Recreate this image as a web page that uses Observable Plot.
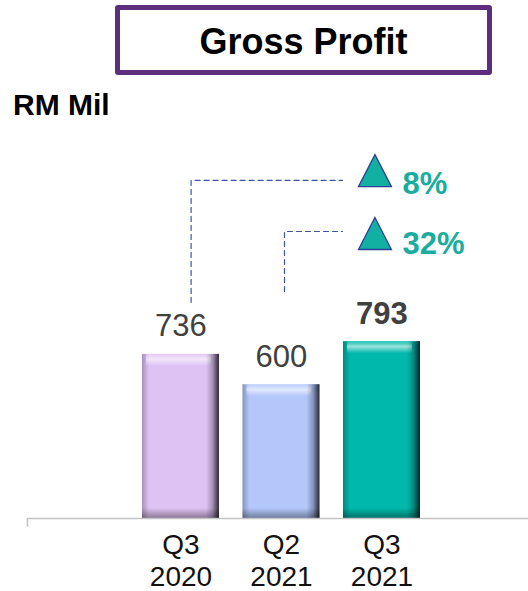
<!DOCTYPE html>
<html>
<head>
<meta charset="utf-8">
<script src="https://cdn.jsdelivr.net/npm/d3@7"></script>
<script src="https://cdn.jsdelivr.net/npm/@observablehq/plot@0.6"></script>
<style>
  body { margin: 0; background: #fff; font-family: "Liberation Sans", Arial, sans-serif; }
  #wrap { position: relative; width: 528px; height: 591px; overflow: hidden; }
  #titlebox { position: absolute; left: 115px; top: 5px; width: 377px; height: 70px; box-sizing: border-box;
    border: 5px solid #5c2e7c; border-radius: 3px; text-align: center; font-weight: bold; font-size: 36px;
    line-height: 60px; color: #000; }
  #titlebox span { position: relative; top: 2px; }
  #unit { position: absolute; left: 13px; top: 90px; font-weight: bold; font-size: 30px; line-height: 30px; color: #000; }
  #chart { position: absolute; left: 0; top: 0; }
</style>
</head>
<body>
<div id="wrap">
  <div id="chart"></div>
  <div id="titlebox"><span>Gross Profit</span></div>
  <div id="unit">RM Mil</div>
</div>
<script>
// ---- data ----
const categories = ["Q3 2020", "Q2 2021", "Q3 2021"];
const tickLabels = ["Q3\n2020", "Q2\n2021", "Q3\n2021"];
const grossProfit = [736, 600, 793];
const growthLabels = ["8%", "32%"];
const growthFrom = [0, 1];          // index of the period compared with Q3 2021
const highlightIndex = 2;           // latest quarter shown in bold

// ---- styling / layout constants ----
const barColors = ["#dfc2f4", "#b3c7fb", "#00b8ab"];
const halfBar = 0.383;
const connectorDx = [0.101, 0.030];
const connectorBottom = [969, 1018];
const connectorLevel = [1516, 1287];
const connectorEnd = 1.607;
const triangleX = 1.93;
const triangleY = [1560, 1278];
const growthTextX = 2.204;
const growthTextY = [1457, 1188];

const bars = categories.map((c, i) => ({i, cat: c, value: grossProfit[i], color: barColors[i]}));

const connectors = growthFrom.flatMap((f, j) => [
  {j, x: f + connectorDx[j], y: connectorBottom[j]},
  {j, x: f + connectorDx[j], y: connectorLevel[j]},
  {j, x: connectorEnd, y: connectorLevel[j]}
]);
const growth = growthLabels.map((t, j) => ({j, text: t, ty: triangleY[j], y: growthTextY[j]}));

const triangle = {
  draw(context, size) {
    const r = Math.sqrt(size / Math.PI);
    context.moveTo(0, -r);
    context.lineTo(1.03 * r, r);
    context.lineTo(-1.03 * r, r);
    context.closePath();
  }
};

function defs() {
  const ns = "http://www.w3.org/2000/svg";
  const g = document.createElementNS(ns, "defs");
  const mk = (id, x2, y2, stops) => {
    const lg = document.createElementNS(ns, "linearGradient");
    lg.setAttribute("id", id);
    lg.setAttribute("x1", 0); lg.setAttribute("y1", 0);
    lg.setAttribute("x2", x2); lg.setAttribute("y2", y2);
    for (const [o, c, a] of stops) {
      const s = document.createElementNS(ns, "stop");
      s.setAttribute("offset", o);
      s.setAttribute("stop-color", c);
      s.setAttribute("stop-opacity", a);
      lg.appendChild(s);
    }
    g.appendChild(lg);
  };
  mk("shadeR", 1, 0, [[0, "#000", 0], [0.5, "#000", 0.25], [1, "#000", 0.8]]);
  mk("shadeL", 1, 0, [[0, "#000", 0.25], [1, "#000", 0]]);
  mk("hiT", 0, 1, [[0, "#fff", 0.1], [0.45, "#fff", 0.6], [1, "#fff", 0]]);
  mk("shadeB", 0, 1, [[0, "#000", 0], [1, "#000", 0.38]]);
  return g;
}

const plot = Plot.plot({
  width: 528,
  height: 591,
  marginLeft: 27,
  marginRight: 0,
  marginTop: 72,
  marginBottom: 73,
  style: {fontFamily: "'Liberation Sans', Arial, sans-serif", background: "transparent"},
  x: {domain: [-1.527, 3.458], range: [27, 528], axis: null},
  y: {domain: [0, 2000], range: [518, 72], axis: null},
  color: {type: "identity"},
  marks: [
    defs,
    Plot.rectY(bars, {x1: d => d.i - halfBar, x2: d => d.i + halfBar, y1: 0, y2: "value", fill: "color"}),
    Plot.rectY(bars, {x1: d => d.i - halfBar, x2: d => d.i + halfBar, y1: 0, y2: "value", fill: "url(#shadeL)", insetRight: 70}),
    Plot.rectY(bars, {x1: d => d.i - halfBar, x2: d => d.i + halfBar, y1: "value", y2: "value", fill: "url(#hiT)", insetBottom: -12, insetLeft: 4, insetRight: 8}),
    Plot.rectY(bars, {x1: d => d.i - halfBar, x2: d => d.i + halfBar, y1: 0, y2: 0, fill: "url(#shadeB)", insetTop: -10}),
    Plot.rectY(bars, {x1: d => d.i - halfBar, x2: d => d.i + halfBar, y1: 0, y2: "value", fill: "url(#shadeR)", insetLeft: 64}),
    Plot.ruleY([0], {x1: -1.527, x2: 3.458, stroke: "#c4c4c4", strokeWidth: 1.5}),
    Plot.ruleX([-1.527], {y1: 0, y2: -40, stroke: "#c4c4c4", strokeWidth: 1.5}),
    Plot.text(bars.filter(d => d.i !== highlightIndex), {x: "i", y: "value", text: d => String(d.value), dy: -18, lineAnchor: "bottom", fontSize: 31, fill: "#404040"}),
    Plot.text(bars.filter(d => d.i === highlightIndex), {x: "i", y: "value", text: d => String(d.value), dy: -18, lineAnchor: "bottom", fontSize: 31, fontWeight: "bold", fill: "#404040"}),
    Plot.line(connectors, {x: "x", y: "y", z: "j", stroke: "#3b55a5", strokeWidth: 1.2, strokeDasharray: "5,4"}),
    Plot.dot(growth, {x: triangleX, y: "ty", r: 16, symbol: triangle, fill: "#12b0a3", stroke: "#2b3f99", strokeWidth: 1.3}),
    Plot.text(growth, {x: growthTextX, y: "y", text: "text", textAnchor: "start", lineAnchor: "bottom", fontSize: 31, fontWeight: "bold", fill: "#1aad9f"}),
    Plot.axisX([0, 1, 2], {tickFormat: i => tickLabels[i], tickSize: 0, tickPadding: 12, fontSize: 28, lineHeight: 1.16, fill: "#111", label: null})
  ]
});
document.getElementById("chart").appendChild(plot);
</script>
</body>
</html>
